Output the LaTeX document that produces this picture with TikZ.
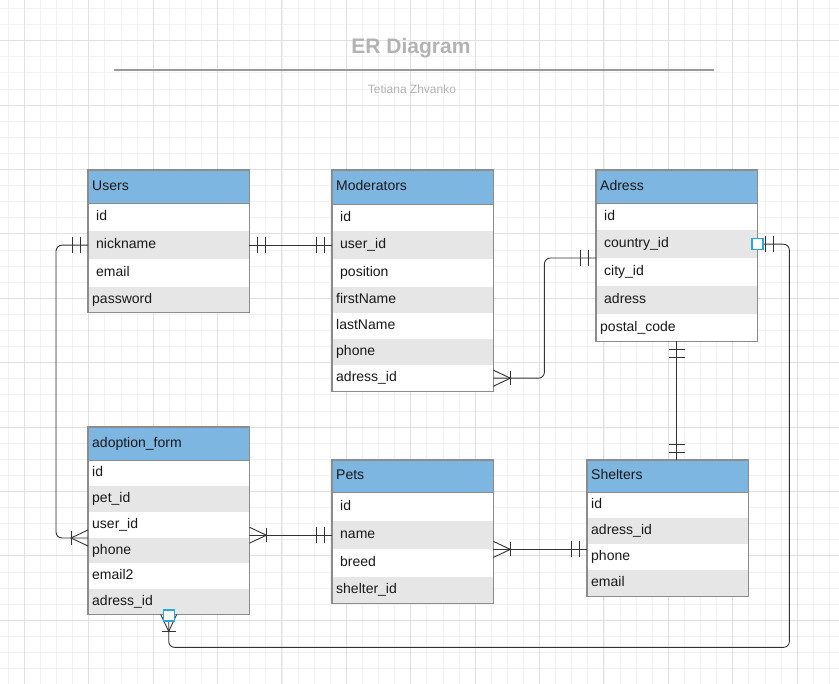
\documentclass[tikz,border=0pt]{standalone}
\usepackage{fontspec}
\setmainfont{Liberation Sans}
\usepackage{xcolor}
\definecolor{HeadBlue}{RGB}{126,182,226}
\definecolor{RowGrey}{RGB}{230,230,230}
\definecolor{EdgeGrey}{RGB}{140,140,140}
\definecolor{LinkDark}{RGB}{51,51,51}
\definecolor{PortBlue}{RGB}{41,168,224}
\definecolor{TitleGrey}{RGB}{179,179,179}
\definecolor{GridMinor}{RGB}{241,241,241}
\definecolor{GridMajor}{RGB}{224,224,224}
\usepackage{tikz}
\usetikzlibrary{arrows.meta, positioning, calc}

\tikzset{
  rowbase/.style={anchor=north west, minimum width=161pt, inner ysep=0pt, align=left,
    text height=10pt, text depth=3pt, font=\fontsize{14}{16}\selectfont, text=black!90},
  hdr/.style={rowbase, draw=EdgeGrey, fill=HeadBlue, inner xsep=4pt, text width=153pt},
  fw/.style={rowbase, fill=white, inner xsep=4pt, text width=153pt},
  fg/.style={rowbase, fill=RowGrey, inner xsep=4pt, text width=153pt},
  fwi/.style={rowbase, fill=white, inner xsep=8pt, text width=145pt},
  fgi/.style={rowbase, fill=RowGrey, inner xsep=8pt, text width=145pt},
  entline/.style={draw=EdgeGrey, line width=1.2pt},
  link/.style={draw=LinkDark, line width=0.9pt},
  gridmin/.style={draw=GridMinor, line width=0.8pt},
  gridmaj/.style={draw=GridMajor, line width=1pt},
  port/.style={draw=PortBlue, fill=white, line width=1.3pt, minimum size=11pt, inner sep=0pt},
  erone/.pic={\draw[link] (8,-8) -- (8,8); \draw[link] (16,-8) -- (16,8);},
  ermany/.pic={\draw[link] (0,-8) -- (17,0) -- (0,8); \draw[link] (17,-7) -- (17,7);}
}

\begin{document}
\begin{tikzpicture}[x=1pt, y=-1pt]
\useasboundingbox (0,0) rectangle (839,684);
% grid
\fill[white] (0,0) rectangle (839,684);
\foreach \k in {0,...,51} \draw[gridmin] ({8.2+16.1*\k},0) -- ({8.2+16.1*\k},684);
\foreach \k in {0,...,41} \draw[gridmin] (0,{8.5+16.1*\k}) -- (839,{8.5+16.1*\k});
\foreach \k in {0,...,12} \draw[gridmaj] ({24.3+64.4*\k},0) -- ({24.3+64.4*\k},684);
\foreach \k in {0,...,9} \draw[gridmaj] (0,{40.7+64.4*\k}) -- (839,{40.7+64.4*\k});

% title
\node[font=\fontsize{21}{24}\selectfont\bfseries, text=TitleGrey] (title) at (411,48) {ER Diagram};
\draw[draw=black!40, line width=1.5pt] (114,70) coordinate (rule-l) -- (714,70) coordinate (rule-r);
\node[font=\fontsize{12}{14}\selectfont, text=TitleGrey] (author) at (412,89) {Tetiana Zhvanko};

% Users
\node[hdr, minimum height=33pt] (usr-hd) at (88,170) {Users};
\node[fwi, minimum height=28pt] (usr-id) at (88,203) {id};
\node[fgi, minimum height=28pt] (usr-nick) at (88,231) {nickname};
\node[fwi, minimum height=28pt] (usr-mail) at (88,259) {email};
\node[fg, minimum height=25pt] (usr-pw) at (88,287) {password};
\draw[entline] (usr-hd.north west) rectangle (usr-pw.south east);
\draw[entline] (usr-hd.south west) -- (usr-hd.south east);

% Moderators
\node[hdr, minimum height=34pt] (mod-hd) at (332,170) {Moderators};
\node[fwi, minimum height=27pt] (mod-id) at (332,204) {id};
\node[fgi, minimum height=28pt] (mod-uid) at (332,231) {user\_id};
\node[fwi, minimum height=28pt] (mod-pos) at (332,259) {position};
\node[fg, minimum height=26pt] (mod-fn) at (332,287) {firstName};
\node[fw, minimum height=26pt] (mod-ln) at (332,313) {lastName};
\node[fg, minimum height=26pt] (mod-ph) at (332,339) {phone};
\node[fw, minimum height=26pt] (mod-adr) at (332,365) {adress\_id};
\draw[entline] (mod-hd.north west) rectangle (mod-adr.south east);
\draw[entline] (mod-hd.south west) -- (mod-hd.south east);

% Adress
\node[hdr, minimum height=33pt] (adr-hd) at (596,170) {Adress};
\node[fwi, minimum height=27pt] (adr-id) at (596,203) {id};
\node[fgi, minimum height=28pt] (adr-cntry) at (596,230) {country\_id};
\node[fwi, minimum height=28pt] (adr-city) at (596,258) {city\_id};
\node[fgi, minimum height=28pt] (adr-str) at (596,286) {adress};
\node[fw, minimum height=27pt] (adr-post) at (596,314) {postal\_code};
\draw[entline] (adr-hd.north west) rectangle (adr-post.south east);
\draw[entline] (adr-hd.south west) -- (adr-hd.south east);

% adoption_form
\node[hdr, minimum height=33pt] (af-hd) at (88,427) {adoption\_form};
\node[fw, minimum height=26pt] (af-id) at (88,460) {id};
\node[fg, minimum height=26pt] (af-pet) at (88,486) {pet\_id};
\node[fw, minimum height=26pt] (af-user) at (88,512) {user\_id};
\node[fg, minimum height=25pt] (af-phone) at (88,538) {phone};
\node[fw, minimum height=26pt] (af-mail) at (88,563) {email2};
\node[fg, minimum height=25pt] (af-adr) at (88,589) {adress\_id};
\draw[entline] (af-hd.north west) rectangle (af-adr.south east);
\draw[entline] (af-hd.south west) -- (af-hd.south east);

% Pets
\node[hdr, minimum height=32pt] (pet-hd) at (332,460) {Pets};
\node[fwi, minimum height=29pt] (pet-id) at (332,492) {id};
\node[fgi, minimum height=28pt] (pet-name) at (332,521) {name};
\node[fwi, minimum height=28pt] (pet-breed) at (332,549) {breed};
\node[fg, minimum height=26pt] (pet-sh) at (332,577) {shelter\_id};
\draw[entline] (pet-hd.north west) rectangle (pet-sh.south east);
\draw[entline] (pet-hd.south west) -- (pet-hd.south east);

% Shelters
\node[hdr, minimum height=32pt] (sh-hd) at (587,460) {Shelters};
\node[fw, minimum height=26pt] (sh-id) at (587,492) {id};
\node[fg, minimum height=26pt] (sh-adr) at (587,518) {adress\_id};
\node[fw, minimum height=26pt] (sh-phone) at (587,544) {phone};
\node[fg, minimum height=26pt] (sh-mail) at (587,570) {email};
\draw[entline] (sh-hd.north west) rectangle (sh-mail.south east);
\draw[entline] (sh-hd.south west) -- (sh-hd.south east);

% relations
\draw[link] (usr-nick.east) -- (mod-uid.west);
\pic at (usr-nick.east) {erone};
\pic[rotate=180] at (mod-uid.west) {erone};

\draw[link, rounded corners=6pt] (usr-nick.west) -- ++(-32,0) |- (af-phone.north west);
\pic[rotate=180] at (usr-nick.west) {erone};
\pic[rotate=180] at (af-phone.north west) {ermany};

\draw[link, rounded corners=6pt] (mod-adr.east) -- ++(51,0) |- (adr-city.north west);
\pic at (mod-adr.east) {ermany};
\pic[rotate=180] at (adr-city.north west) {erone};

\draw[link] (adr-post.south) -- (adr-post.south |- sh-hd.north);
\pic[rotate=-90] at (adr-post.south) {erone};
\pic[rotate=90] at (adr-post.south |- sh-hd.north) {erone};

\draw[link, rounded corners=6pt] (adr-cntry.east) -- ++(32,0) |- ($(af-adr.south)+(0,33)$) -- (af-adr.south);
\pic at (adr-cntry.east) {erone};
\pic[rotate=-90] at (af-adr.south) {ermany};
\node[port] (port-adr) at (adr-cntry.east) {};
\node[port] (port-af) at ($(af-adr.south)+(0,1)$) {};

\draw[link] (af-user.east |- pet-name.west) -- (pet-name.west);
\pic at (af-user.east |- pet-name.west) {ermany};
\pic[rotate=180] at (pet-name.west) {erone};

\draw[link] (pet-name.south east) -- (sh-phone.west |- pet-name.south east);
\pic at (pet-name.south east) {ermany};
\pic[rotate=180] at (sh-phone.west |- pet-name.south east) {erone};
\end{tikzpicture}
\end{document}
